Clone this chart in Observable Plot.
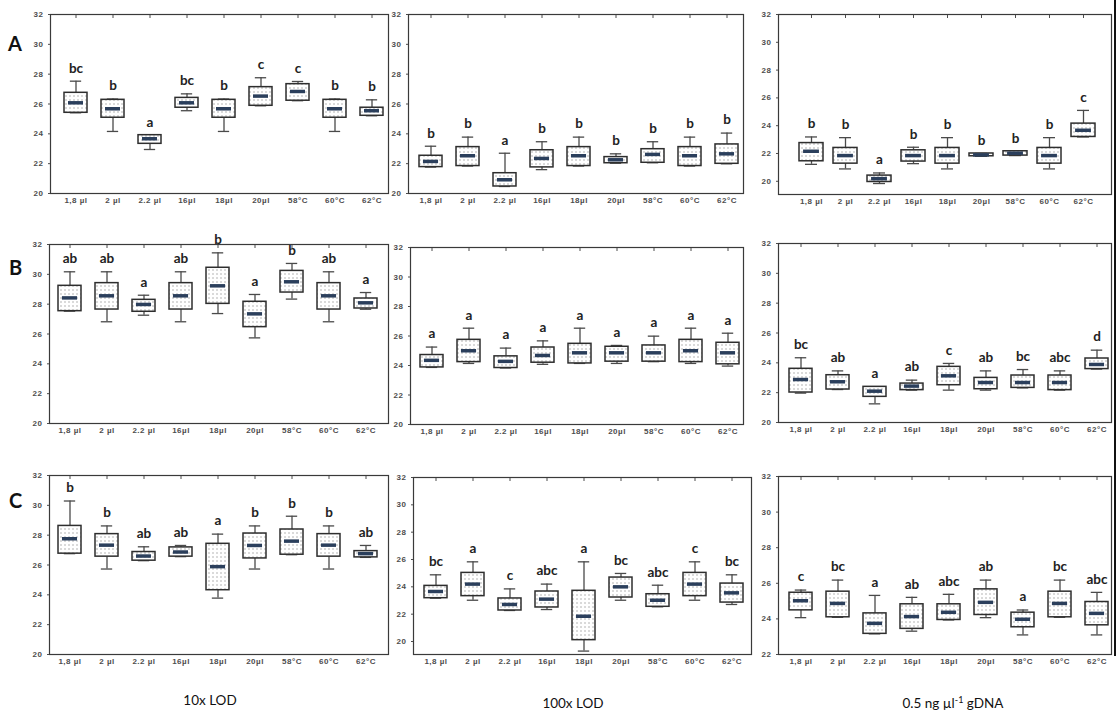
<!DOCTYPE html>
<html><head><meta charset="utf-8">
<script src="https://cdn.jsdelivr.net/npm/d3@7"></script>
<script src="https://cdn.jsdelivr.net/npm/@observablehq/plot@0.6"></script>
<style>
body{margin:0;background:#fff;}
#root{position:relative;width:1119px;height:718px;overflow:hidden;background:#fff;font-family:Lato,"Open Sans",sans-serif;}
.panel{position:absolute;}
.panel g[aria-label$="axis tick label"] text{letter-spacing:0.5px;}
.letter{position:absolute;font-weight:700;font-size:20px;line-height:20px;color:#111;font-family:Lato,sans-serif;}
.title{position:absolute;font-size:13.5px;line-height:16px;color:#111;transform:translateX(-50%);white-space:nowrap;font-family:Lato,sans-serif;}
.vline{position:absolute;left:1114px;top:0;width:2px;height:656px;background:#111;}
</style></head><body>
<svg width="0" height="0" style="position:absolute"><defs>
<pattern id="dots" width="4" height="4" patternUnits="userSpaceOnUse"><rect width="4" height="4" fill="#fff"/><rect x="1.5" y="1.5" width="1" height="1" fill="#6e6e6e"/></pattern>
</defs></svg>
<div id="root"></div>
<script>
// ---------- data ----------
const categories = ["1,8 µl", "2 µl", "2.2 µl", "16µl", "18µl", "20µl", "58°C", "60°C", "62°C"];
const yTicks = [20, 22, 24, 26, 28, 30, 32];
const yTicksC3 = [22, 24, 26, 28, 30, 32];
const columnTitles = ["10x LOD", "100x LOD", "0.5 ng µl-1 gDNA"];
const rowLetters = ["A", "B", "C"];

// each row: [whisker low, Q1, median, Q3, whisker high]
const A1_stats = [[25.41,25.41,26.08,26.75,27.53],[24.16,25.08,25.68,26.28,26.33],[22.95,23.33,23.67,23.91,23.91],[25.55,25.75,26.08,26.41,26.68],[24.16,25.08,25.68,26.28,26.33],[25.88,25.88,26.53,27.13,27.76],[26.22,26.22,26.84,27.33,27.51],[24.16,25.08,25.68,26.28,26.33],[25.21,25.21,25.55,25.75,26.28]];
const A1_letters = ["bc","b","a","bc","b","c","c","b","b"];
const A2_stats = [[21.77,21.77,22.15,22.53,23.17],[21.84,21.84,22.53,23.11,23.78],[20.47,20.47,20.92,21.36,22.70],[21.6,21.75,22.35,22.9,23.47],[21.84,21.84,22.53,23.11,23.78],[22.03,22.03,22.26,22.44,22.66],[22.06,22.06,22.62,22.97,23.47],[21.84,21.84,22.53,23.11,23.78],[21.99,21.99,22.66,23.29,24.05]];
const A2_letters = ["b","b","a","b","b","b","b","b","b"];
const A3_stats = [[21.22,21.44,22.16,22.75,23.19],[20.89,21.27,21.85,22.40,23.14],[19.84,19.95,20.19,20.41,20.60],[21.27,21.42,21.85,22.23,22.45],[20.89,21.27,21.85,22.40,23.14],[21.8,21.8,21.9,22.0,22.0],[21.85,21.85,22.02,22.16,22.16],[20.89,21.27,21.85,22.40,23.14],[23.19,23.19,23.67,24.15,25.10]];
const A3_letters = ["b","b","a","b","b","b","b","b","c"];
const B1_stats = [[27.53,27.53,28.42,29.23,30.17],[26.82,27.64,28.56,29.41,30.17],[27.26,27.49,27.98,28.29,28.60],[26.82,27.64,28.56,29.41,30.17],[27.37,28.02,29.23,30.44,31.44],[25.74,26.46,27.35,28.16,28.65],[28.34,28.78,29.50,30.23,30.73],[26.82,27.64,28.56,29.41,30.17],[27.66,27.71,28.09,28.38,28.78]];
const B1_letters = ["ab","ab","a","ab","b","a","b","ab","a"];
const B2_stats = [[23.87,23.87,24.35,24.71,25.25],[24.14,24.23,25.0,25.74,26.53],[23.83,23.83,24.28,24.62,25.18],[24.08,24.19,24.68,25.22,25.67],[24.14,24.14,24.86,25.47,26.53],[24.14,24.26,24.86,25.27,25.36],[24.26,24.26,24.86,25.36,25.99],[24.14,24.23,25.0,25.74,26.53],[23.96,24.08,24.86,25.54,26.19]];
const B2_letters = ["a","a","a","a","a","a","a","a","a"];
const B3_stats = [[21.97,22.01,22.88,23.60,24.34],[22.21,22.21,22.73,23.17,23.46],[21.25,21.72,22.10,22.39,22.39],[22.17,22.17,22.44,22.61,22.84],[22.17,22.50,23.13,23.73,23.96],[22.17,22.23,22.68,22.99,23.46],[22.32,22.32,22.68,23.15,23.55],[22.17,22.17,22.68,23.15,23.46],[23.58,23.58,23.89,24.29,24.85]];
const B3_letters = ["bc","ab","a","ab","c","ab","bc","abc","d"];
const C1_stats = [[26.76,26.76,27.76,28.62,30.29],[25.73,26.56,27.33,28.07,28.62],[26.29,26.29,26.60,26.87,27.22],[26.56,26.56,26.87,27.18,27.31],[23.78,24.31,25.89,27.42,28.07],[25.73,26.44,27.31,28.11,28.62],[26.69,26.69,27.60,28.38,29.27],[25.73,26.56,27.33,28.07,28.62],[26.51,26.51,26.76,26.93,27.31]];
const C1_letters = ["b","b","ab","ab","a","b","b","b","ab"];
const C2_stats = [[23.17,23.17,23.66,24.07,24.88],[23.02,23.32,24.20,25.02,25.83],[22.27,22.27,22.71,23.15,23.85],[22.34,22.49,23.10,23.66,24.20],[19.3,20.1,21.85,23.71,25.83],[23.02,23.22,24.0,24.68,24.98],[22.54,22.54,23.02,23.46,24.12],[23.02,23.32,24.20,25.02,25.83],[22.71,22.85,23.56,24.24,24.88]];
const C2_letters = ["bc","a","c","abc","a","bc","abc","c","bc"];
const C3_stats = [[24.07,24.48,25.02,25.47,25.62],[24.09,24.09,24.87,25.53,26.18],[23.16,23.16,23.75,24.31,25.32],[23.31,23.44,24.13,24.82,25.21],[23.94,23.94,24.37,24.82,25.38],[24.07,24.22,24.93,25.66,26.18],[23.10,23.53,23.98,24.35,24.50],[24.09,24.09,24.87,25.53,26.18],[23.10,23.64,24.31,24.95,25.49]];
const C3_letters = ["c","bc","a","ab","abc","ab","a","bc","abc"];

// ---------- layout ----------
const panels = [
  {stats:A1_stats, letters:A1_letters, L:50,  T:14,  R:388,  B:193, dom:[20,32],    ticks:yTicks,   pi:0.38, po:0.167, align:0.74},
  {stats:A2_stats, letters:A2_letters, L:408, T:14,  R:743,  B:193, dom:[20,32],    ticks:yTicks,   pi:0.38, po:0.157, align:0.71},
  {stats:A3_stats, letters:A3_letters, L:778, T:14,  R:1111, B:194, dom:[19.05,32], ticks:yTicks,   pi:0.30, po:0.53,  align:0.56},
  {stats:B1_stats, letters:B1_letters, L:49,  T:244, R:388,  B:423, dom:[20,32],    ticks:yTicks,   pi:0.38, po:0.225, align:0.44},
  {stats:B2_stats, letters:B2_letters, L:410, T:247, R:743,  B:424, dom:[20,32],    ticks:yTicks,   pi:0.38, po:0.144, align:0.69},
  {stats:B3_stats, letters:B3_letters, L:778, T:243, R:1111, B:422, dom:[20,32],    ticks:yTicks,   pi:0.38, po:0.16,  align:0.79},
  {stats:C1_stats, letters:C1_letters, L:49,  T:475, R:388,  B:654, dom:[20,32],    ticks:yTicks,   pi:0.38, po:0.195, align:0.43},
  {stats:C2_stats, letters:C2_letters, L:413, T:477, R:751,  B:654, dom:[19.05,32], ticks:yTicks,   pi:0.38, po:0.21,  align:0.58},
  {stats:C3_stats, letters:C3_letters, L:778, T:476, R:1111, B:654, dom:[22,32],    ticks:yTicksC3, pi:0.38, po:0.175, align:0.8}
];

const root = document.getElementById("root");
const mL = 34, mR = 4, mT = 4, mB = 18;

for (const p of panels) {
  const W = p.R - p.L, H = p.B - p.T;
  const step = W / (categories.length - p.pi + 2 * p.po);
  const bw = step * (1 - p.pi);
  const data = categories.map((c, i) => ({
    cat: c, wlo: p.stats[i][0], q1: p.stats[i][1], med: p.stats[i][2],
    q3: p.stats[i][3], whi: p.stats[i][4], letter: p.letters[i]
  }));
  const whisk = {stroke: "#4a4a4a", strokeWidth: 1.3};
  const chart = Plot.plot({
    width: W + mL + mR, height: H + mT + mB,
    marginLeft: mL, marginRight: mR, marginTop: mT, marginBottom: mB,
    style: {fontFamily: "'Liberation Sans', Arial, sans-serif", fontSize: "8px", fontWeight: "bold", color: "#4d4d4d", background: "transparent", overflow: "visible"},
    x: {type: "band", domain: categories, paddingInner: p.pi, paddingOuter: p.po, align: p.align, label: null},
    y: {domain: p.dom, label: null},
    marks: [
      Plot.ruleX(data, {x: "cat", y1: "wlo", y2: "q1", ...whisk}),
      Plot.ruleX(data, {x: "cat", y1: "q3", y2: "whi", ...whisk}),
      Plot.tickY(data, {x: "cat", y: "wlo", inset: bw * 0.25, ...whisk}),
      Plot.tickY(data, {x: "cat", y: "whi", inset: bw * 0.25, ...whisk}),
      Plot.barY(data, {x: "cat", y1: "q1", y2: "q3", fill: "url(#dots)", stroke: "#2e2e2e", strokeWidth: 1.5}),
      Plot.tickY(data, {x: "cat", y: "med", stroke: "#2b3f5c", strokeWidth: 3.5, inset: bw * 0.17}),
      Plot.text(data, {x: "cat", y: "whi", text: "letter", dy: -13, fontFamily: "Lato, 'Open Sans', sans-serif", fontSize: 13.5, fontWeight: "bold", fill: "#222"}),
      Plot.frame({stroke: "#3a3a3a", strokeWidth: 1.2}),
      Plot.axisY({ticks: p.ticks, tickSize: 2, tickPadding: 5, tickFormat: d => String(d)}),
      Plot.axisX({tickSize: 0, tickPadding: 4}),
      Plot.axisX({anchor: "top", tickSize: -3, tickFormat: () => ""})
    ]
  });
  chart.classList.add("panel");
  chart.style.left = (p.L - mL) + "px";
  chart.style.top = (p.T - mT) + "px";
  chart.style.position = "absolute";
  root.appendChild(chart);
}

// row letters
const letterPos = [[8, 33], [9, 257], [9, 490]];
rowLetters.forEach((t, i) => {
  const d = document.createElement("div");
  d.className = "letter";
  d.textContent = t;
  d.style.left = letterPos[i][0] + "px";
  d.style.top = letterPos[i][1] + "px";
  root.appendChild(d);
});

// column titles
const titleX = [210, 573, 953];
const titleY = [692, 695, 695];
columnTitles.forEach((t, i) => {
  const d = document.createElement("div");
  d.className = "title";
  d.style.left = titleX[i] + "px";
  d.style.top = titleY[i] + "px";
  if (t.includes("µl-1")) {
    const [a, b] = t.split("µl-1");
    d.innerHTML = a + "µl<sup style='font-size:9px;line-height:0'>-1</sup>" + b;
  } else d.textContent = t;
  root.appendChild(d);
});

const v = document.createElement("div");
v.className = "vline";
root.appendChild(v);
</script>
</body></html>
